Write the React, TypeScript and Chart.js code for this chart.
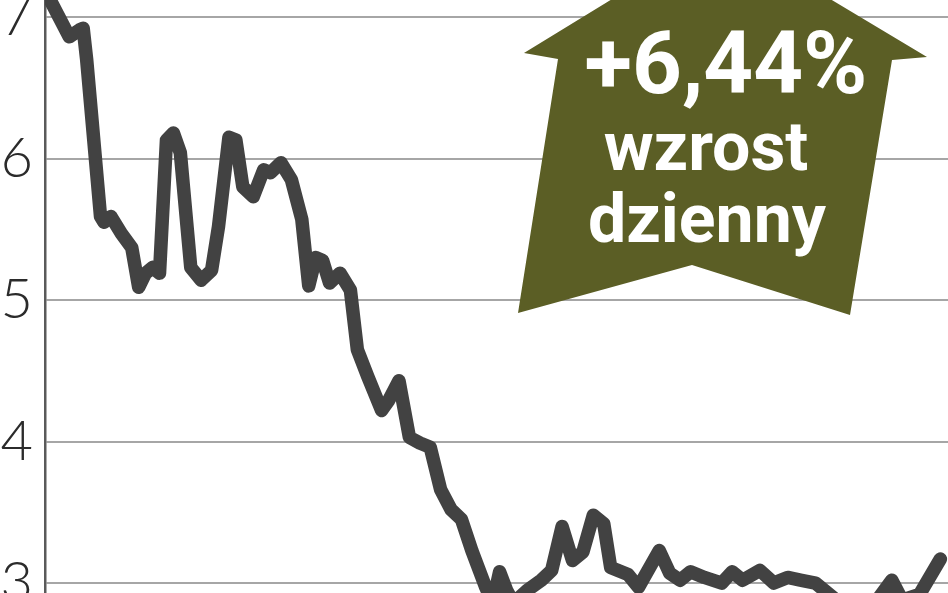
import React, { useEffect, useRef } from "react";
import { Chart, registerables } from "chart.js";

Chart.register(...registerables);

// Trading day index (x) and closing price (y)
const days = [
  0, 7, 10, 11, 12, 16, 17, 19, 22, 25, 27, 29, 31, 33, 35, 37, 39, 42, 45, 48,
  50, 53, 55, 57, 60, 63, 65, 68, 71, 74, 76, 78, 80, 82, 85, 88, 90, 93, 97, 99,
  102, 105, 108, 111, 114, 117, 120, 123, 127, 129, 131, 133, 135, 139, 143, 146,
  149, 152, 155, 158, 161, 163, 168, 171, 177, 180, 183, 186, 190, 195, 198, 201,
  206, 210, 214, 218, 222, 227, 232, 238, 244, 247, 252, 258,
];
const prices = [
  7.19, 6.86, 6.91, 6.92, 6.7, 5.59, 5.55, 5.59, 5.47, 5.37, 5.09, 5.19, 5.23, 5.19,
  6.13, 6.18, 6.04, 5.23, 5.14, 5.21, 5.52, 6.15, 6.13, 5.8, 5.73, 5.92, 5.9, 5.97,
  5.85, 5.57, 5.1, 5.3, 5.28, 5.12, 5.19, 5.07, 4.65, 4.46, 4.22, 4.29, 4.43, 4.03,
  3.99, 3.96, 3.66, 3.52, 3.45, 3.23, 2.97, 2.86, 3.08, 2.95, 2.86, 2.95, 3.02, 3.09,
  3.4, 3.16, 3.22, 3.48, 3.42, 3.11, 3.06, 2.97, 3.23, 3.07, 3.02, 3.08, 3.04, 3.0,
  3.08, 3.02, 3.09, 3.0, 3.04, 3.02, 3.0, 2.9, 2.8, 2.82, 3.02, 2.88, 2.92, 3.17,
];
const yTickValues = [3, 4, 5, 6, 7];
const yMin = 2.93;
const yMax = 7.12;
const xMin = 0;
const xMax = 260.2;

const badgeChange = "+6,44%";
const badgeLine2 = "wzrost";
const badgeLine3 = "dzienny";

export default function App() {
  const canvasRef = useRef<HTMLCanvasElement | null>(null);

  useEffect(() => {
    const canvas = canvasRef.current;
    if (!canvas) return;
    const chart = new Chart(canvas, {
      type: "line",
      data: {
        datasets: [
          {
            data: days.map((d, i) => ({ x: d, y: prices[i] })),
            borderColor: "#424242",
            borderWidth: 13.5,
            pointRadius: 0,
            tension: 0,
            borderJoinStyle: "round",
            borderCapStyle: "round",
            fill: false,
          },
        ],
      },
      options: {
        animation: false,
        responsive: true,
        maintainAspectRatio: false,
        layout: { padding: 0 },
        plugins: {
          legend: { display: false },
          tooltip: { enabled: false },
        },
        scales: {
          x: {
            type: "linear",
            min: xMin,
            max: xMax,
            display: false,
          },
          y: {
            type: "linear",
            min: yMin,
            max: yMax,
            afterBuildTicks: (scale: any) => {
              scale.ticks = yTickValues.map((v) => ({ value: v }));
            },
            afterFit: (scale: any) => {
              scale.width = 45;
              scale.paddingTop = 0;
              scale.paddingBottom = 0;
            },
            grid: {
              color: "#a6a6a6",
              lineWidth: 2,
              drawTicks: false,
            },
            border: { display: true, color: "#5a5a5a", width: 2.5 },
            ticks: {
              padding: 12,
              color: "#2b2b2b",
              font: { family: "Lato", size: 56, weight: "300" as any },
            },
          },
        },
      },
    });
    return () => chart.destroy();
  }, []);

  const lineBase: React.CSSProperties = {
    position: "absolute",
    color: "#ffffff",
    fontFamily: "Roboto, 'DejaVu Sans', sans-serif",
    fontWeight: 700,
    lineHeight: 1,
    whiteSpace: "nowrap",
    transform: "translateX(-50%)",
  };

  return (
    <div
      style={{
        position: "fixed",
        left: 0,
        top: 0,
        width: 948,
        height: 593,
        background: "#ffffff",
        overflow: "hidden",
      }}
    >
      <div style={{ position: "absolute", left: 0, top: 0, width: 948, height: 593 }}>
        <canvas ref={canvasRef} />
      </div>
      <div
        style={{
          position: "absolute",
          left: 0,
          top: 0,
          width: 948,
          height: 593,
          background: "#5b5e25",
          clipPath:
            "polygon(720px -67px, 927px 57px, 892px 60px, 850px 315px, 692px 265px, 518px 313px, 558px 59px, 524px 53px)",
        }}
      />
      <div style={{ ...lineBase, left: 726, top: 20, fontSize: 87 }}>{badgeChange}</div>
      <div style={{ ...lineBase, left: 706, top: 113, fontSize: 68 }}>{badgeLine2}</div>
      <div style={{ ...lineBase, left: 707, top: 185, fontSize: 68 }}>{badgeLine3}</div>
    </div>
  );
}
